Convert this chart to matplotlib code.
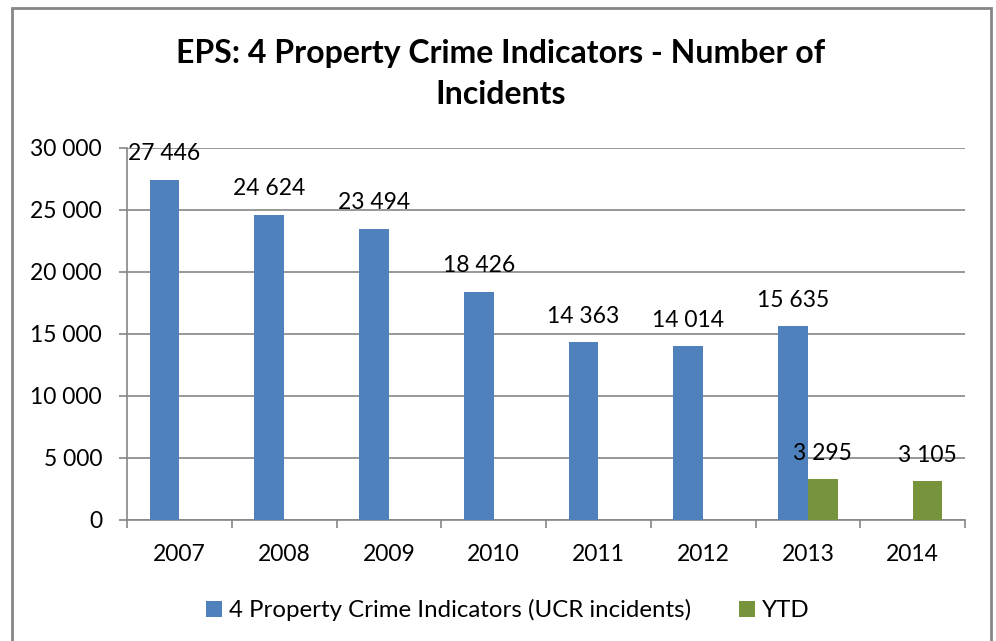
import numpy as np
import matplotlib.pyplot as plt
from matplotlib.patches import Rectangle
from matplotlib.ticker import FuncFormatter

years = ['2007', '2008', '2009', '2010', '2011', '2012', '2013', '2014']
ucr = [27446, 24624, 23494, 18426, 14363, 14014, 15635, None]
ytd = [None, None, None, None, None, None, 3295, 3105]

plt.rcParams['font.family'] = ['Lato', 'DejaVu Sans']

fig = plt.figure(figsize=(9.96, 6.41), dpi=100)
ax = fig.add_axes([127 / 996, 1 - 520 / 641, 838 / 996, 372 / 641])

x = np.arange(len(years))
w = 0.285
blue = '#4F81BD'
green = '#77933C'
fs = 16.5

def space_fmt(v):
    return f'{int(round(v)):,}'.replace(',', ' ')

xb = [i for i, v in zip(x, ucr) if v is not None]
vb = [v for v in ucr if v is not None]
xg = [i for i, v in zip(x, ytd) if v is not None]
vg = [v for v in ytd if v is not None]

b1 = ax.bar(np.array(xb) - w / 2, vb, w, color=blue, zorder=3,
            label='4 Property Crime Indicators (UCR incidents)')
b2 = ax.bar(np.array(xg) + w / 2, vg, w, color=green, zorder=3, label='YTD')

for bars, vals in ((b1, vb), (b2, vg)):
    for r, v in zip(bars, vals):
        ax.annotate(space_fmt(v), (r.get_x() + r.get_width() / 2, v),
                    xytext=(0, 11), textcoords='offset points',
                    ha='center', va='bottom', fontsize=fs, annotation_clip=False)

ax.set_xlim(-0.5, len(years) - 0.5)
ax.set_ylim(0, 30000)
ax.set_yticks(np.arange(0, 30001, 5000))
ax.yaxis.set_major_formatter(FuncFormatter(lambda v, p: space_fmt(v)))
ax.set_xticks(x)
ax.set_xticklabels(years)
ax.set_xticks(np.arange(-0.5, len(years)), minor=True)

ax.grid(axis='y', color='#868686', linewidth=1.2, zorder=0)
for s in ('top', 'right'):
    ax.spines[s].set_visible(False)
for s in ('left', 'bottom'):
    ax.spines[s].set_color('#868686')
    ax.spines[s].set_linewidth(1.2)

ax.tick_params(axis='y', direction='out', length=6, width=1.2, color='#868686',
               pad=12, labelsize=fs)
ax.tick_params(axis='x', which='major', length=0, pad=17, labelsize=fs)
ax.tick_params(axis='x', which='minor', direction='out', length=6, width=1.2,
               color='#868686')

fig.text(0.503, 1 - 74 / 641, 'EPS: 4 Property Crime Indicators - Number of\nIncidents',
         ha='center', va='center', fontsize=23, fontweight='bold', linespacing=1.5)

fig.legend(handles=[b1, b2], loc='center', bbox_to_anchor=(508 / 996, 1 - 610 / 641),
           ncol=2, frameon=False, fontsize=17.3, handlelength=0.65, handleheight=0.65,
           handletextpad=0.3, columnspacing=2.0)

fig.patches.append(Rectangle((12 / 996, -0.05), 979 / 996, 1.05 - 8 / 641,
                             transform=fig.transFigure, fill=False,
                             edgecolor='#868686', linewidth=2))

fig.savefig('out.png', dpi=100)
